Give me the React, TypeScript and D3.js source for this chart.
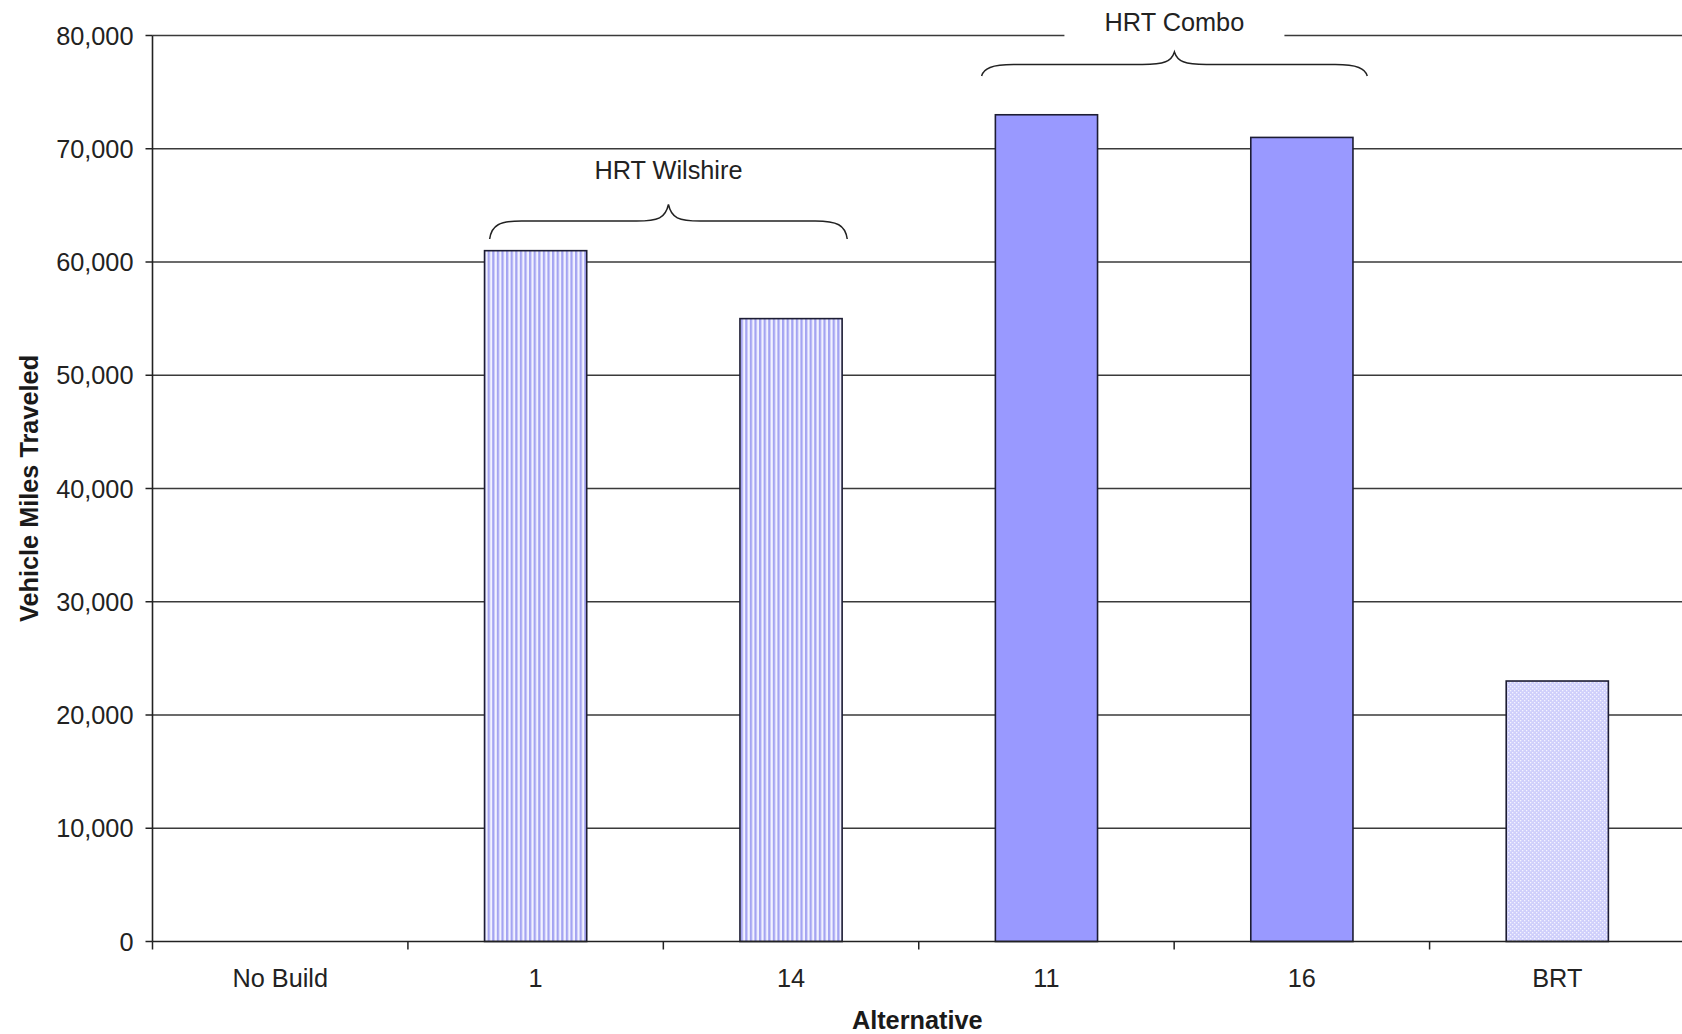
import React from "react";
import * as d3 from "d3";

// Vehicle miles traveled by alternative
const categories: string[] = ["No Build", "1", "14", "11", "16", "BRT"];
const vmtValues: number[] = [0, 61000, 55000, 73000, 71000, 23000];
const fillKinds: string[] = ["solid", "stripes", "stripes", "solid", "solid", "dots"];
const yTicks: number[] = [0, 10000, 20000, 30000, 40000, 50000, 60000, 70000, 80000];

// Grouping braces above the bars
const groupLabels: string[] = ["HRT Wilshire", "HRT Combo"];
const groupFrom: string[] = ["1", "11"];
const groupTo: string[] = ["14", "16"];

const W = 1682;
const H = 1034;
const margin = { left: 152.5, top: 35.5, right: -3, bottom: 92.5 };
const FONT = "'Liberation Sans', Arial, Helvetica, sans-serif";
const FS = 25.3;

function bracePath(x1: number, x2: number, yEnd: number, yMid: number, yTip: number): string {
  const xm = (x1 + x2) / 2;
  const r = 32;
  return [
    `M${x1},${yEnd}`,
    `C${x1 + 2},${yMid + 4} ${x1 + 10},${yMid} ${x1 + r},${yMid}`,
    `L${xm - r},${yMid}`,
    `C${xm - 10},${yMid} ${xm - 3},${yMid - 3} ${xm},${yTip}`,
    `C${xm + 3},${yMid - 3} ${xm + 10},${yMid} ${xm + r},${yMid}`,
    `L${x2 - r},${yMid}`,
    `C${x2 - 10},${yMid} ${x2 - 2},${yMid + 4} ${x2},${yEnd}`,
  ].join(" ");
}

export default function App() {
  const x0 = margin.left;
  const x1 = W - margin.right;
  const yTop = margin.top;
  const yBot = H - margin.bottom;

  const x = d3.scaleBand<string>().domain(categories).range([x0, x1]).paddingInner(0).paddingOuter(0);
  const y = d3.scaleLinear().domain([0, 80000]).range([yBot, yTop]);
  const bw = x.bandwidth();
  const barW = bw * 0.4;
  const center = (c: string) => (x(c) as number) + bw / 2;
  const fmt = d3.format(",");

  const fillFor = (k: string) =>
    k === "solid" ? "#9999ff" : k === "stripes" ? "url(#vstripes)" : "url(#dots)";

  // brace geometry per group
  const braces = groupLabels.map((label, i) => {
    const a = center(groupFrom[i]);
    const b = center(groupTo[i]);
    if (i === 0) {
      return { label, bx1: a - bw * 0.18, bx2: b + bw * 0.22, yEnd: 239, yMid: 221, yTip: 204.5, ty: 170 };
    }
    return { label, bx1: a - bw * 0.254, bx2: b + bw * 0.256, yEnd: 76, yMid: 64.5, yTip: 52, ty: 21.5 };
  });

  return (
    <svg
      width={W}
      height={H}
      viewBox={`0 0 ${W} ${H}`}
      style={{ position: "absolute", left: 0, top: 0, display: "block", background: "#fff" }}
    >
      <defs>
        <pattern id="vstripes" patternUnits="userSpaceOnUse" width={4.6} height={10}>
          <rect width={4.6} height={10} fill="#f2f2ff" />
          <rect x={0} width={2.3} height={10} fill="#a4a4f2" />
        </pattern>
        <pattern id="dots" patternUnits="userSpaceOnUse" width={4} height={4}>
          <rect width={4} height={4} fill="#cfcffb" />
          <rect x={0} y={0} width={1.3} height={1.3} fill="#f4f4ff" />
          <rect x={2} y={2} width={1.3} height={1.3} fill="#f4f4ff" />
        </pattern>
      </defs>

      {/* horizontal gridlines */}
      {yTicks.filter((t) => t > 0).map((t) => (
        <line key={t} x1={x0} x2={W} y1={y(t)} y2={y(t)} stroke="#3a3a3a" strokeWidth={1.4} />
      ))}

      {/* bars */}
      {categories.map((c, i) =>
        vmtValues[i] > 0 ? (
          <rect
            key={c}
            x={center(c) - barW / 2}
            y={y(vmtValues[i])}
            width={barW}
            height={y(0) - y(vmtValues[i])}
            fill={fillFor(fillKinds[i])}
            stroke="#1d1d33"
            strokeWidth={1.6}
          />
        ) : null
      )}

      {/* y axis */}
      <line x1={x0} x2={x0} y1={yTop} y2={yBot} stroke="#222" strokeWidth={1.6} />
      {yTicks.map((t) => (
        <g key={t}>
          <line x1={x0 - 7} x2={x0} y1={y(t)} y2={y(t)} stroke="#222" strokeWidth={1.5} />
          <text
            x={x0 - 19}
            y={y(t)}
            textAnchor="end"
            dominantBaseline="central"
            fontFamily={FONT}
            fontSize={FS}
            fill="#222"
          >
            {fmt(t)}
          </text>
        </g>
      ))}

      {/* x axis */}
      <line x1={x0} x2={W} y1={yBot} y2={yBot} stroke="#222" strokeWidth={1.6} />
      {categories.map((c) => (
        <line key={"t" + c} x1={x(c) as number} x2={x(c) as number} y1={yBot} y2={yBot + 8} stroke="#222" strokeWidth={1.5} />
      ))}
      {categories.map((c) => (
        <text
          key={"l" + c}
          x={center(c)}
          y={yBot + 36}
          textAnchor="middle"
          dominantBaseline="central"
          fontFamily={FONT}
          fontSize={FS}
          fill="#222"
        >
          {c}
        </text>
      ))}

      {/* axis titles */}
      <text
        x={(x0 + W) / 2}
        y={1020}
        textAnchor="middle"
        dominantBaseline="central"
        fontFamily={FONT}
        fontSize={FS}
        fontWeight="bold"
        fill="#1a1a1a"
      >
        Alternative
      </text>
      <text
        transform={`translate(29,${(yTop + yBot) / 2}) rotate(-90)`}
        textAnchor="middle"
        dominantBaseline="central"
        fontFamily={FONT}
        fontSize={FS}
        fontWeight="bold"
        fill="#1a1a1a"
      >
        Vehicle Miles Traveled
      </text>

      {/* group braces and labels */}
      {braces.map((b) => {
        const xm = (b.bx1 + b.bx2) / 2;
        return (
          <g key={b.label}>
            {b.ty < 40 && <rect x={xm - 110} y={4} width={220} height={40} fill="#fff" />}
            <path d={bracePath(b.bx1, b.bx2, b.yEnd, b.yMid, b.yTip)} fill="none" stroke="#222" strokeWidth={1.5} />
            <text
              x={xm}
              y={b.ty}
              textAnchor="middle"
              dominantBaseline="central"
              fontFamily={FONT}
              fontSize={FS}
              fill="#222"
            >
              {b.label}
            </text>
          </g>
        );
      })}
    </svg>
  );
}
